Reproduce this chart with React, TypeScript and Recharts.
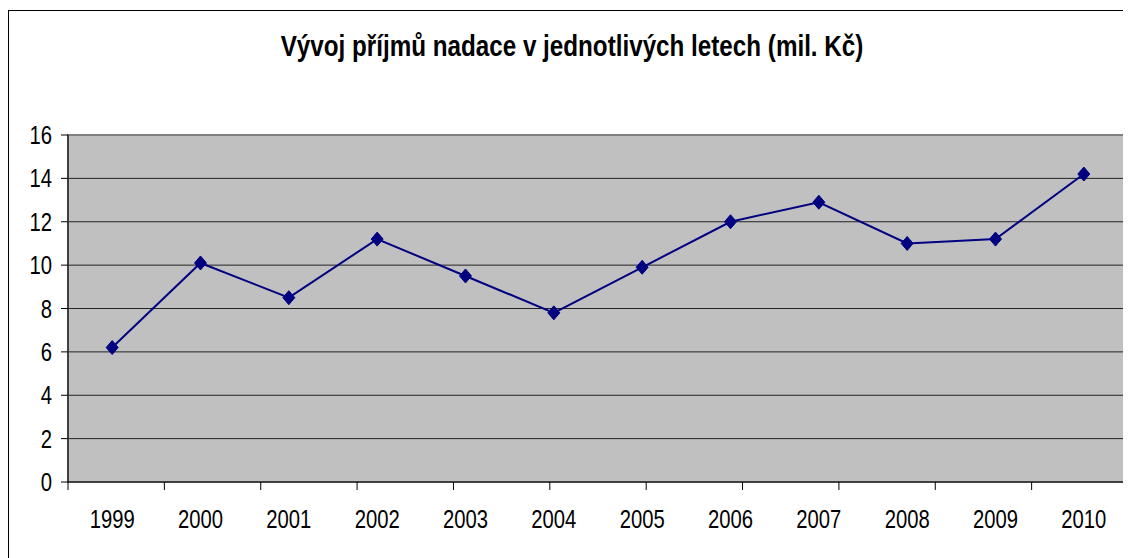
import React from 'react';
import { LineChart, Line, XAxis, YAxis, CartesianGrid, ReferenceArea } from 'recharts';

// roky a příjmy nadace (mil. Kč)
const years = ['1999', '2000', '2001', '2002', '2003', '2004', '2005', '2006', '2007', '2008', '2009', '2010'];
const incomes = [6.2, 10.1, 8.5, 11.2, 9.5, 7.8, 9.9, 12.0, 12.9, 11.0, 11.2, 14.2];
const yTicks = [0, 2, 4, 6, 8, 10, 12, 14, 16];

const FONT = '"Liberation Sans", Arial, sans-serif';
const NAVY = '#000080';
const SQUEEZE = 0.81; // písmo v originále je zúžené (Arial Narrow)

// kategorie leží uprostřed pásma, dělicí čárky na hranicích
const data = years.map((year, i) => ({ x: i + 0.5, year, value: incomes[i] }));
const boundaryTicks = years.map((_, i) => i).concat(years.length);
const labelTicks = data.map((d) => d.x);

function Diamond(props: any) {
  const { cx, cy } = props;
  if (cx == null || cy == null) return null;
  return (
    <polygon
      points={`${cx},${cy - 7} ${cx + 6},${cy} ${cx},${cy + 7} ${cx - 6},${cy}`}
      fill={NAVY}
      stroke={NAVY}
      strokeWidth={1}
    />
  );
}

// popisek osy se zúženým písmem
function NarrowTick(props: any) {
  const { x, y, payload, textAnchor, axis } = props;
  const label = axis === 'x' ? years[Math.floor(payload.value)] : String(payload.value);
  return (
    <text
      transform={`translate(${x},${y}) scale(${SQUEEZE},1)`}
      textAnchor={textAnchor}
      dy={axis === 'x' ? '0.71em' : '0.36em'}
      fill="#000"
      fontSize={25}
      fontFamily={FONT}
    >
      {label}
    </text>
  );
}

export default function App() {
  return (
    <div style={{ width: 1123, height: 550, overflow: 'hidden', paddingTop: 2 }}>
      <div
        style={{
          position: 'relative',
          width: 1140,
          height: 570,
          border: '1px solid #000',
          background: '#fff',
        }}
      >
        <div
          style={{
            position: 'absolute',
            left: 0,
            width: 1126,
            top: 19,
            textAlign: 'center',
            fontFamily: FONT,
            fontWeight: 'bold',
            fontSize: 29,
            color: '#000',
            transform: 'scaleX(0.835)',
            transformOrigin: '563px 0',
            whiteSpace: 'nowrap',
          }}
        >
          Vývoj příjmů nadace v jednotlivých letech (mil. Kč)
        </div>
        <LineChart
          width={1130}
          height={545}
          data={data}
          margin={{ top: 124, right: 11, left: 0, bottom: 0 }}
        >
          <CartesianGrid vertical={false} fill="#c0c0c0" stroke="#222" strokeOpacity={1} />
          <ReferenceArea
            xAxisId="lab"
            x1={0}
            x2={12}
            y1={0}
            y2={16}
            fill="none"
            stroke="#808080"
            strokeWidth={2}
          />
          <YAxis
            width={59}
            domain={[0, 16]}
            ticks={yTicks}
            interval={0}
            tickSize={7}
            tickMargin={9}
            axisLine={{ stroke: '#000' }}
            tickLine={{ stroke: '#000' }}
            tick={<NarrowTick axis="y" />}
          />
          <XAxis
            xAxisId="bnd"
            type="number"
            domain={[0, 12]}
            ticks={boundaryTicks}
            interval={0}
            height={10}
            tickSize={8}
            tickFormatter={() => ''}
            axisLine={{ stroke: '#000' }}
            tickLine={{ stroke: '#000' }}
          />
          <XAxis
            xAxisId="lab"
            type="number"
            dataKey="x"
            domain={[0, 12]}
            ticks={labelTicks}
            interval={0}
            height={64}
            tickSize={0}
            tickMargin={18}
            axisLine={false}
            tickLine={false}
            tick={<NarrowTick axis="x" />}
          />
          <Line
            xAxisId="lab"
            type="linear"
            dataKey="value"
            stroke={NAVY}
            strokeWidth={2}
            dot={<Diamond />}
            activeDot={false}
            isAnimationActive={false}
          />
        </LineChart>
      </div>
    </div>
  );
}
